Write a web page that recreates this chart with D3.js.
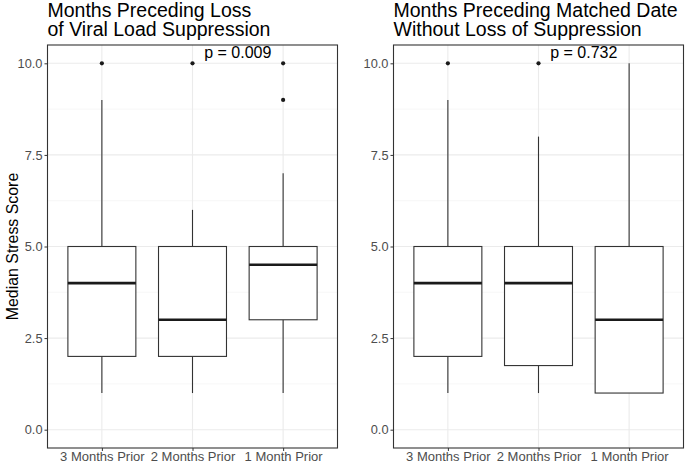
<!DOCTYPE html>
<html><head><meta charset="utf-8">
<script src="https://cdn.jsdelivr.net/npm/d3@7"></script>
<style>body{margin:0;background:#fff}svg{display:block}text{font-family:"Liberation Sans",Arial,sans-serif}</style>
</head><body><svg id="c" width="685" height="463"></svg>
<script>
const categories = ["3 Months Prior", "2 Months Prior", "1 Month Prior"];
const yTicks = [0, 2.5, 5, 7.5, 10];
const yMinor = [1.25, 3.75, 6.25, 8.75];

const lossLower = [1, 1, 1];
const lossQ1 = [2, 2, 3];
const lossMedian = [4, 3, 4.5];
const lossQ3 = [5, 5, 5];
const lossUpper = [9, 6, 7];
const lossOutliers = [[10], [10], [10, 9]];

const matchLower = [1, 1, 1];
const matchQ1 = [2, 1.75, 1];
const matchMedian = [4, 4, 3];
const matchQ3 = [5, 5, 5];
const matchUpper = [9, 8, 10];
const matchOutliers = [[10], [10], []];

const panels = [
  {title: ["Months Preceding Loss", "of Viral Load Suppression"], p: "p = 0.009",
   lower: lossLower, q1: lossQ1, med: lossMedian, q3: lossQ3, upper: lossUpper, out: lossOutliers,
   x0: 47.5, x1: 337.5},
  {title: ["Months Preceding Matched Date", "Without Loss of Suppression"], p: "p = 0.732",
   lower: matchLower, q1: matchQ1, med: matchMedian, q3: matchQ3, upper: matchUpper, out: matchOutliers,
   x0: 393.5, x1: 683.5}
];

const svg = d3.select("#c");
const pTop = 45, pBottom = 448;
const y = d3.scaleLinear().domain([-0.5, 10.5]).range([pBottom, pTop]);
const dark = "#333333";

panels.forEach(P => {
  // discrete x scale with ggplot-style 0.6 unit expansion on each side
  const x = d3.scalePoint().domain(categories).range([P.x0, P.x1]).padding(0.6);
  const unit = x.step();
  const g = svg.append("g");
  g.selectAll(".minor").data(yMinor).join("line")
    .attr("x1", P.x0).attr("x2", P.x1).attr("y1", d => y(d)).attr("y2", d => y(d))
    .attr("stroke", "#f2f2f2").attr("stroke-width", 0.6);
  g.selectAll(".major").data(yTicks).join("line")
    .attr("x1", P.x0).attr("x2", P.x1).attr("y1", d => y(d)).attr("y2", d => y(d))
    .attr("stroke", "#ebebeb").attr("stroke-width", 1.1);
  g.selectAll(".vmajor").data(categories).join("line")
    .attr("x1", d => x(d)).attr("x2", d => x(d)).attr("y1", pTop).attr("y2", pBottom)
    .attr("stroke", "#ebebeb").attr("stroke-width", 1.1);

  const bw = 0.75 * unit;
  categories.forEach((c, i) => {
    const xc = x(c);
    g.append("line").attr("x1", xc).attr("x2", xc).attr("y1", y(P.q3[i])).attr("y2", y(P.upper[i]))
      .attr("stroke", dark).attr("stroke-width", 1.1);
    g.append("line").attr("x1", xc).attr("x2", xc).attr("y1", y(P.q1[i])).attr("y2", y(P.lower[i]))
      .attr("stroke", dark).attr("stroke-width", 1.1);
    g.append("rect").attr("x", xc - bw / 2).attr("width", bw)
      .attr("y", y(P.q3[i])).attr("height", y(P.q1[i]) - y(P.q3[i]))
      .attr("fill", "#fff").attr("stroke", dark).attr("stroke-width", 1.1);
    g.append("line").attr("x1", xc - bw / 2).attr("x2", xc + bw / 2).attr("y1", y(P.med[i])).attr("y2", y(P.med[i]))
      .attr("stroke", "#1a1a1a").attr("stroke-width", 2.6);
    g.selectAll(null).data(P.out[i]).join("circle")
      .attr("cx", xc).attr("cy", d => y(d)).attr("r", 2.1).attr("fill", "#1a1a1a");
  });

  // p label at x = 2.5 (between 2nd and 3rd category)
  g.append("text").attr("x", (x(categories[1]) + x(categories[2])) / 2).attr("y", y(10.3))
    .attr("text-anchor", "middle").attr("dominant-baseline", "central")
    .attr("font-size", 16).attr("fill", "#000").text(P.p);

  g.append("rect").attr("x", P.x0).attr("y", pTop).attr("width", P.x1 - P.x0).attr("height", pBottom - pTop)
    .attr("fill", "none").attr("stroke", dark).attr("stroke-width", 1.1);

  const ya = g.append("g").attr("transform", `translate(${P.x0},0)`)
    .call(d3.axisLeft(y).tickValues(yTicks).tickFormat(d3.format(".1f")).tickSize(3).tickPadding(2));
  ya.select(".domain").remove();
  ya.selectAll("line").attr("stroke", dark);
  ya.selectAll("text").attr("font-size", 12.8).attr("fill", "#4d4d4d")
    .attr("font-family", "'Liberation Sans',Arial,sans-serif");

  const xa = g.append("g").attr("transform", `translate(0,${pBottom})`)
    .call(d3.axisBottom(x).tickSize(3).tickPadding(1));
  xa.select(".domain").remove();
  xa.selectAll("line").attr("stroke", dark);
  xa.selectAll("text").attr("font-size", 13).attr("fill", "#4d4d4d")
    .attr("font-family", "'Liberation Sans',Arial,sans-serif");

  const tt = svg.append("text").attr("font-size", 19.5).attr("fill", "#000");
  P.title.forEach((t, k) => {
    tt.append("tspan").attr("x", P.x0).attr("y", 17 + k * 19.3).text(t);
  });
});

svg.append("text").attr("transform", `translate(12,${(pTop + pBottom) / 2}) rotate(-90)`)
  .attr("text-anchor", "middle").attr("dominant-baseline", "central")
  .attr("font-size", 15.9).attr("fill", "#000").text("Median Stress Score");
</script></body></html>
